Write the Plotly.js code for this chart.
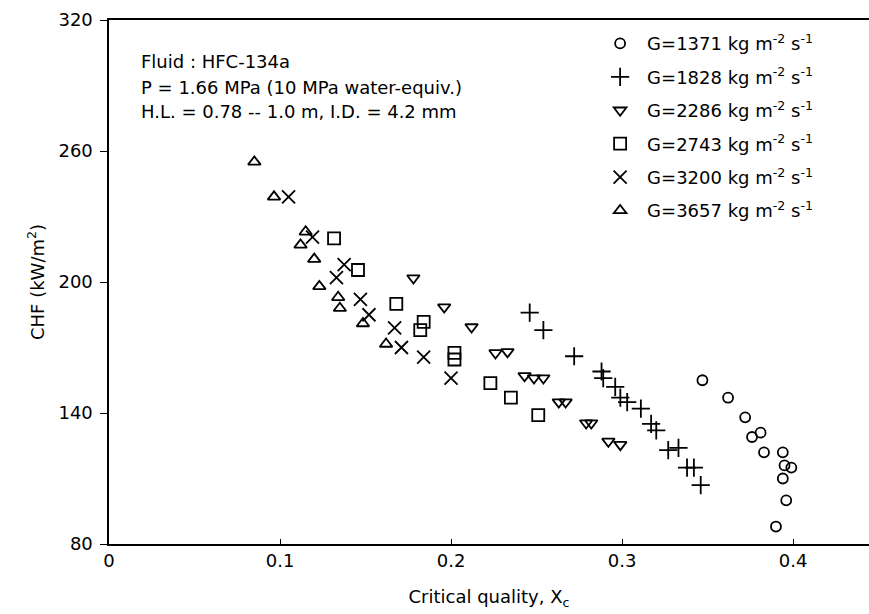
<!DOCTYPE html>
<html>
<head>
<meta charset="utf-8">
<script src="https://cdn.plot.ly/plotly-3.0.1.min.js"></script>
<style>html,body{margin:0;padding:0;background:#fff;}#chart{width:869px;height:614px;}</style>
</head>
<body>
<div id="chart"></div>
<script>
// G = 1371 kg m-2 s-1 (circles)
var g1371_x = [0.347, 0.362, 0.372, 0.376, 0.381, 0.383, 0.394, 0.394, 0.395, 0.399, 0.396, 0.390];
var g1371_y = [155, 147, 138, 129, 131, 122, 122, 110, 116, 115, 100, 88];
// G = 1828 (plus)
var g1828_x = [0.246, 0.254, 0.272, 0.288, 0.289, 0.296, 0.299, 0.303, 0.311, 0.317, 0.320, 0.327, 0.333, 0.338, 0.342, 0.346];
var g1828_y = [186, 178, 166, 159, 156, 152, 147, 145, 142, 135, 132, 123, 124, 115, 115, 107];
// G = 2286 (down triangles)
var g2286_x = [0.178, 0.196, 0.212, 0.226, 0.233, 0.243, 0.2485, 0.254, 0.263, 0.267, 0.279, 0.282, 0.292, 0.299];
var g2286_y = [201.8, 188.5, 179.4, 167.5, 168, 157, 156, 156, 145, 145, 135.4, 135.4, 127, 125.5];
// G = 2743 (squares)
var g2743_x = [0.1316, 0.1456, 0.168, 0.184, 0.182, 0.202, 0.202, 0.223, 0.235, 0.251];
var g2743_y = [220, 205.5, 190, 181.7, 178, 167.5, 164.5, 153.7, 147, 139];
// G = 3200 (x)
var g3200_x = [0.105, 0.119, 0.1375, 0.133, 0.147, 0.152, 0.167, 0.171, 0.184, 0.200];
var g3200_y = [239, 220.6, 208, 202, 192, 185, 179, 170, 165.6, 156];
// G = 3657 (up triangles)
var g3657_x = [0.085, 0.0965, 0.115, 0.112, 0.120, 0.123, 0.134, 0.135, 0.1485, 0.162];
var g3657_y = [255, 239, 223, 217, 210.5, 198, 193, 188, 181, 171.6];

var seriesNames = [
  'G=1371 kg m<sup>-2</sup> s<sup>-1</sup>',
  'G=1828 kg m<sup>-2</sup> s<sup>-1</sup>',
  'G=2286 kg m<sup>-2</sup> s<sup>-1</sup>',
  'G=2743 kg m<sup>-2</sup> s<sup>-1</sup>',
  'G=3200 kg m<sup>-2</sup> s<sup>-1</sup>',
  'G=3657 kg m<sup>-2</sup> s<sup>-1</sup>'
];
var xTickVals = [0, 0.1, 0.2, 0.3, 0.4];
var xTickText = ['0', '0.1', '0.2', '0.3', '0.4'];
var yTickVals = [80, 140, 200, 260, 320];
var infoLines = ['Fluid : HFC-134a', 'P = 1.66 MPa (10 MPa water-equiv.)', 'H.L. = 0.78 -- 1.0 m, I.D. = 4.2 mm'];

var xs = [g1371_x, g1828_x, g2286_x, g2743_x, g3200_x, g3657_x];
var ys = [g1371_y, g1828_y, g2286_y, g2743_y, g3200_y, g3657_y];
var symbols = ['circle-open', 'cross-thin-open', 'triangle-down-open', 'square-open', 'x-thin-open', 'triangle-up-open'];
var sizes = [10, 13, 11, 12, 13, 11];

var font = 'DejaVu Sans, Liberation Sans, Arial, sans-serif';
var FS = 18;
var traces = [];
for (var i = 0; i < 6; i++) {
  traces.push({
    type: 'scatter', mode: 'markers', name: seriesNames[i], legendgroup: 'g' + i,
    x: xs[i], y: ys[i],
    marker: {symbol: symbols[i], size: sizes[i], color: '#000', line: {color: '#000', width: 1.8}}
  });
}

var infoY = [62, 87, 112];
var annotations = infoLines.map(function (t, k) {
  return {xref: 'paper', yref: 'paper', x: 0.04, y: 1 - (infoY[k] - 20) / 524, xanchor: 'left', yanchor: 'middle',
    text: t, showarrow: false, font: {family: font, size: FS, color: '#000'}};
});

var layout = {
  width: 869, height: 614,
  margin: {l: 109, r: 0, t: 20, b: 70},
  paper_bgcolor: '#fff', plot_bgcolor: '#fff',
  font: {family: font, size: FS, color: '#000'},
  showlegend: true,
  legend: {x: 0.637, y: 0.99, xanchor: 'left', yanchor: 'top', bgcolor: 'rgba(0,0,0,0)',
    traceorder: 'grouped', tracegroupgap: 7,
    font: {family: font, size: FS, color: '#000'}, itemwidth: 44},
  xaxis: {range: [0, 0.4444], tickvals: xTickVals, ticktext: xTickText, ticks: 'inside', ticklen: 5,
    tickcolor: '#000', showgrid: false, zeroline: false, showline: true, linecolor: '#000', linewidth: 1.6,
    mirror: true, tickfont: {family: font, size: FS, color: '#000'},
    title: {text: 'Critical quality, X<sub>c</sub>', font: {family: font, size: FS, color: '#000'}, standoff: 20}},
  yaxis: {range: [80, 320], tickvals: yTickVals, ticks: 'outside', ticklen: 7, tickcolor: '#000',
    ticklabelstandoff: 4,
    showgrid: false, zeroline: false, showline: true, linecolor: '#000', linewidth: 1.6,
    tickfont: {family: font, size: FS, color: '#000'},
    title: {text: 'CHF (kW/m<sup>2</sup>)', font: {family: font, size: FS, color: '#000'}, standoff: 9}},
  annotations: annotations
};

Plotly.newPlot('chart', traces, layout, {displayModeBar: false, staticPlot: true});
</script>
</body>
</html>
